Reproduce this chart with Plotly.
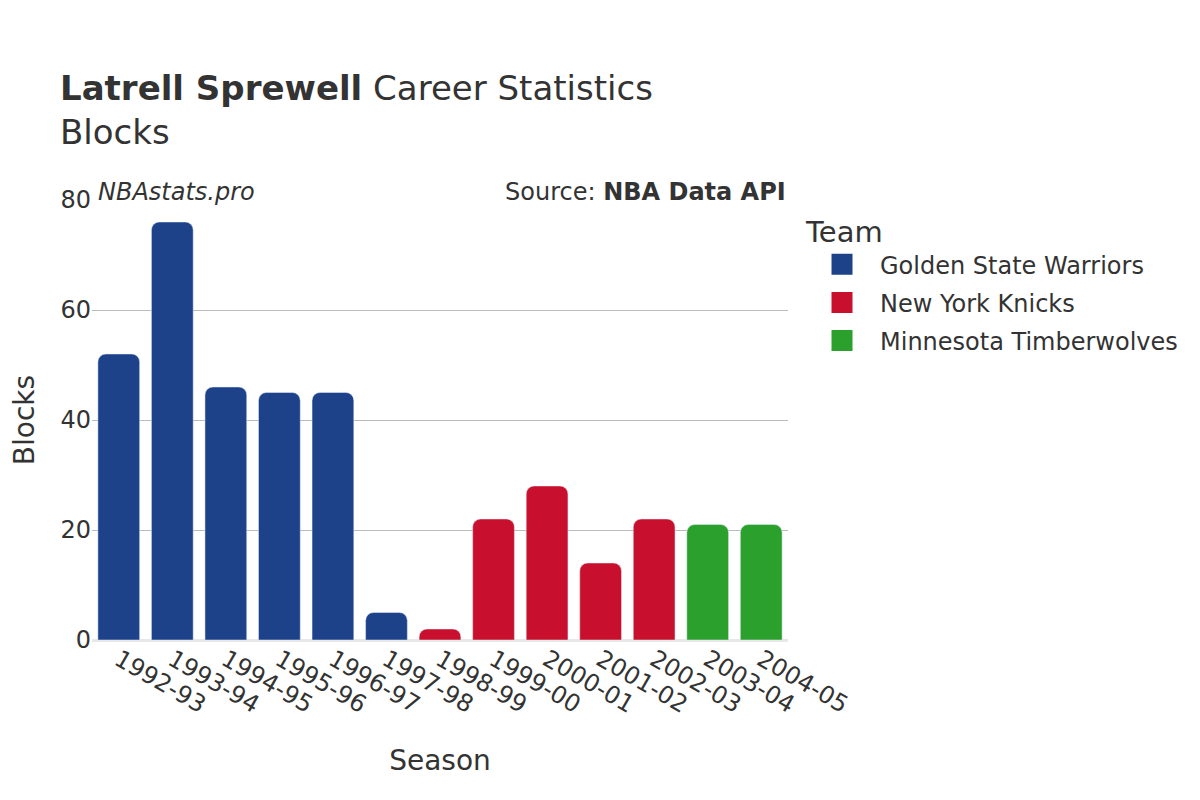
import plotly.graph_objects as go

seasons = ["1992-93", "1993-94", "1994-95", "1995-96", "1996-97", "1997-98", "1998-99",
           "1999-00", "2000-01", "2001-02", "2002-03", "2003-04", "2004-05"]
teams = ["Golden State Warriors", "Golden State Warriors", "Golden State Warriors",
         "Golden State Warriors", "Golden State Warriors", "Golden State Warriors",
         "New York Knicks", "New York Knicks", "New York Knicks", "New York Knicks",
         "New York Knicks", "Minnesota Timberwolves", "Minnesota Timberwolves"]
blocks = [52, 76, 46, 45, 45, 5, 2, 22, 28, 14, 22, 21, 21]

team_order = ["Golden State Warriors", "New York Knicks", "Minnesota Timberwolves"]
team_colors = {"Golden State Warriors": "#1D428A", "New York Knicks": "#C8102E",
               "Minnesota Timberwolves": "#2CA02C"}

fig = go.Figure()
for t in team_order:
    xs = [s for s, tm in zip(seasons, teams) if tm == t]
    ys = [b for b, tm in zip(blocks, teams) if tm == t]
    fig.add_trace(go.Bar(x=xs, y=ys, name=t, marker_color=team_colors[t],
                         legendgroup=t, showlegend=False))
    fig.add_trace(go.Scatter(x=[None], y=[None], mode="markers", name=t, legendgroup=t,
                             marker=dict(symbol="square", size=16, color=team_colors[t],
                                         line=dict(width=5, color=team_colors[t]))))

fig.update_layout(
    width=1200, height=800,
    barmode="relative",
    bargap=0.22,
    barcornerradius=8,
    font=dict(family="DejaVu Sans", color="#333333", size=24),
    plot_bgcolor="white", paper_bgcolor="white",
    margin=dict(l=84, r=420, t=192, b=168),
    title=dict(
        text="<b>Latrell Sprewell</b> Career Statistics<br>Blocks",
        x=0.05 - 8 / 1200, xanchor="left", y=0.885, yanchor="top",
        font=dict(size=34, color="#333333"),
    ),
    legend=dict(
        title=dict(text="Team", font=dict(size=29)),
        x=1.023, xanchor="left", y=0.99, yanchor="top",
        font=dict(size=24), itemwidth=66, tracegroupgap=4,
    ),
    annotations=[
        dict(text="<i>NBAstats.pro</i>", xref="paper", yref="paper", x=0, y=1,
             xanchor="left", yanchor="bottom", showarrow=False, font=dict(size=24),
             yshift=-8, xshift=4),
        dict(text="Source: <b>NBA Data API</b>", xref="paper", yref="paper", x=1, y=1,
             xanchor="right", yanchor="bottom", showarrow=False, font=dict(size=24),
             yshift=-8),
    ],
)
fig.update_xaxes(
    title=dict(text="Season", font=dict(size=28), standoff=32),
    categoryorder="array", categoryarray=seasons,
    tickangle=30, tickfont=dict(size=24), automargin=False,
)
fig.update_yaxes(
    title=dict(text="Blocks", font=dict(size=28), standoff=30),
    range=[0, 80], dtick=20, gridcolor="#bbbbbb", gridwidth=1,
    zeroline=True, zerolinecolor="#e8e8e8", zerolinewidth=3,
    tickfont=dict(size=24), automargin=False,
)

fig.write_html("out.html")
